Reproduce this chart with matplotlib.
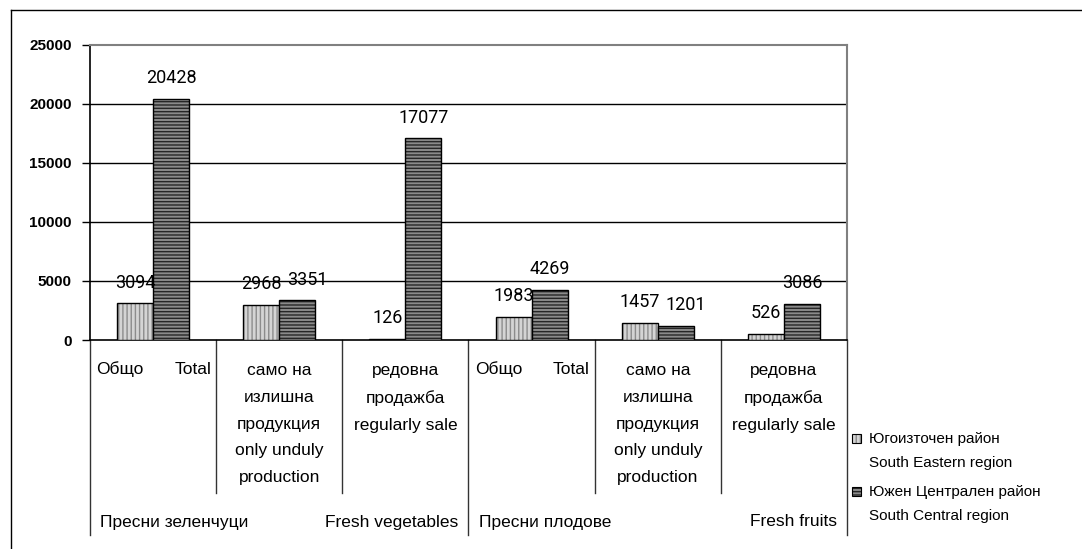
import matplotlib
matplotlib.use('Agg')
import matplotlib.pyplot as plt
from matplotlib.lines import Line2D
from matplotlib.patches import Rectangle

# data
sub_labels = [
    None,
    "само на\nизлишна\nпродукция\nonly unduly\nproduction",
    "редовна\nпродажба\nregularly sale",
    None,
    "само на\nизлишна\nпродукция\nonly unduly\nproduction",
    "редовна\nпродажба\nregularly sale",
]
total_bg, total_en = "Общо", "Total"
groups_bg = ["Пресни зеленчуци", "Пресни плодове"]
groups_en = ["Fresh vegetables", "Fresh fruits"]
south_eastern = [3094, 2968, 126, 1983, 1457, 526]
south_central = [20428, 3351, 17077, 4269, 1201, 3086]
series_names = ["Югоизточен район\nSouth Eastern region",
                "Южен Централен район\nSouth Central region"]
y_ticks = [0, 5000, 10000, 15000, 20000, 25000]

W, H = 1082, 549
plt.rcParams['font.family'] = ['Liberation Sans', 'DejaVu Sans']
fig = plt.figure(figsize=(W / 100, H / 100), dpi=100)

# plot area in pixels
L, R, T, B = 90, 847, 45, 340
ax = fig.add_axes([L / W, 1 - B / H, (R - L) / W, (B - T) / H])


def ay(py):
    # pixel row -> axes fraction
    return (B - py) / (B - T)


n = len(south_eastern)
xs = list(range(n))
bw = 0.285
se_style = dict(facecolor='#d4d4d4', hatch='||||', hc=(0.55, 0.55, 0.55, 1.0))
sc_style = dict(facecolor='#8a8a8a', hatch='-----', hc=(0.15, 0.15, 0.15, 1.0))

b1 = ax.bar([x - bw / 2 for x in xs], south_eastern, bw, facecolor=se_style['facecolor'],
            edgecolor='black', linewidth=1.0, hatch=se_style['hatch'], zorder=3)
b2 = ax.bar([x + bw / 2 for x in xs], south_central, bw, facecolor=sc_style['facecolor'],
            edgecolor='black', linewidth=1.0, hatch=sc_style['hatch'], zorder=3)
for p in b1:
    p._hatch_color = se_style['hc']
for p in b2:
    p._hatch_color = sc_style['hc']

# value labels (second-series labels nudged right where they would collide, like Excel does)
nudge = {(1, 1): 7, (1, 4): 7}
for s, (bars, vals) in enumerate(((b1, south_eastern), (b2, south_central))):
    for i, (p, v) in enumerate(zip(bars, vals)):
        ax.annotate(str(v), (p.get_x() + p.get_width() / 2, v),
                    xytext=(nudge.get((s, i), 0), 15), textcoords='offset points',
                    ha='center', va='center', fontsize=13, family='Roboto', zorder=5)

ax.set_xlim(-0.5, n - 0.5)
ax.set_ylim(0, 25000)
ax.set_yticks(y_ticks)
ax.set_yticklabels([str(t) for t in y_ticks], fontsize=11, fontweight='bold')
ax.tick_params(axis='y', direction='out', length=6, width=1, pad=7)
ax.set_xticks([])
for yv in y_ticks[1:-1]:
    ax.axhline(yv, color='black', linewidth=1, zorder=1)
ax.spines['top'].set_color('#808080')
ax.spines['right'].set_color('#808080')
ax.spines['top'].set_linewidth(1.5)
ax.spines['right'].set_linewidth(1.5)
ax.spines['left'].set_linewidth(1.2)
ax.spines['bottom'].set_linewidth(1.2)

# category separators under the axis
xt = ax.get_xaxis_transform()
for k in range(n + 1):
    xb = k - 0.5
    bottom = ay(535) if k % 3 == 0 else ay(493)
    ax.add_line(Line2D([xb, xb], [0, bottom], transform=xt, color='#333333',
                       linewidth=1, clip_on=False))

# sub-category labels
for i, lab in enumerate(sub_labels):
    if lab is None:
        ax.text(i - 0.45, ay(369), total_bg, transform=xt, ha='left', va='center', fontsize=12.5)
        ax.text(i + 0.46, ay(369), total_en, transform=xt, ha='right', va='center', fontsize=12.5)
    else:
        ax.text(i, ay(363), lab, transform=xt, ha='center', va='top', fontsize=12.5,
                linespacing=1.98)

# group labels
for g in range(2):
    ax.text(3 * g - 0.42, ay(522), groups_bg[g], transform=xt, ha='left', va='center', fontsize=12.5)
    ax.text(3 * g + 2.42, ay(522), groups_en[g], transform=xt, ha='right', va='center', fontsize=12.5)

# legend
for j, (name, st) in enumerate(zip(series_names, (se_style, sc_style))):
    ytop = 438 + j * 53
    sq = Rectangle((852 / W, 1 - (ytop + 5) / H), 9 / W, 9 / H, transform=fig.transFigure,
                   facecolor=st['facecolor'], edgecolor='black', linewidth=0.8, hatch=st['hatch'])
    sq._hatch_color = st['hc']
    fig.patches.append(sq)
    fig.text(869 / W, 1 - (ytop - 6) / H, name, ha='left', va='top', fontsize=11,
             linespacing=1.88)

# outer frame
fig.add_artist(Line2D([11 / W, 11 / W], [0, 1 - 10 / H], transform=fig.transFigure,
                      color='black', linewidth=1))
fig.add_artist(Line2D([11 / W, 1], [1 - 10 / H, 1 - 10 / H], transform=fig.transFigure,
                      color='black', linewidth=1))

fig.savefig('out.png', dpi=100)
